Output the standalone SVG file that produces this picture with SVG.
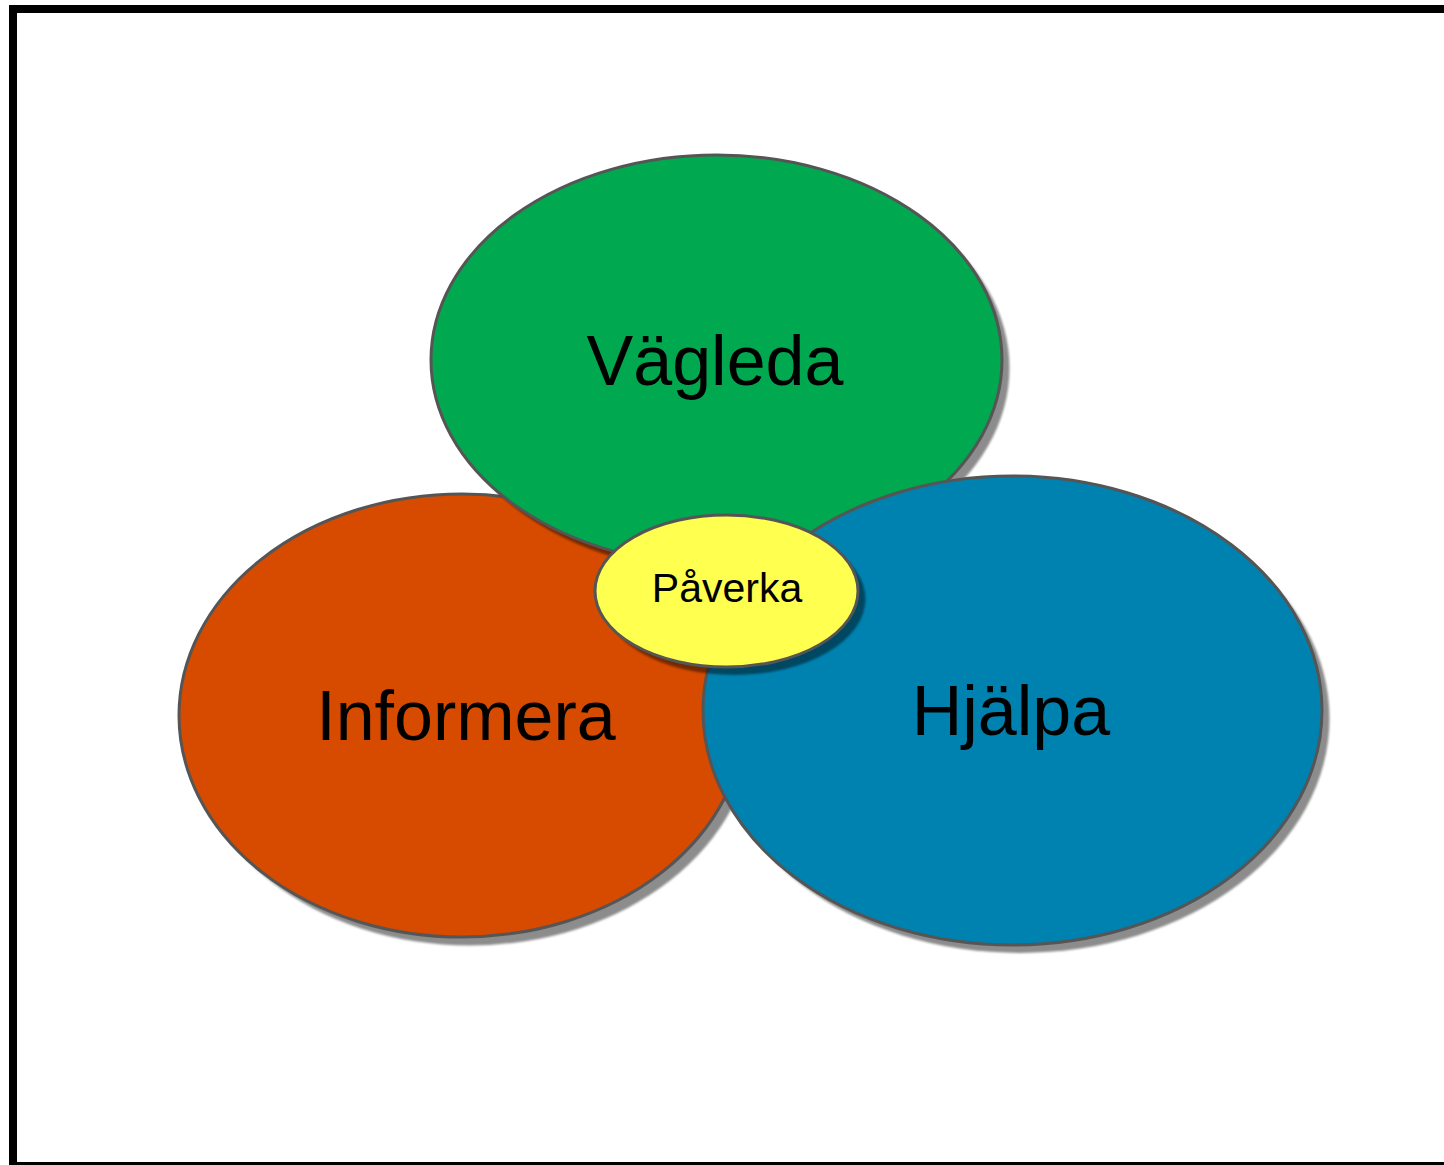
<svg xmlns="http://www.w3.org/2000/svg" width="1444" height="1165" viewBox="0 0 1444 1165">
<defs>
<filter id="blur" x="-5%" y="-5%" width="110%" height="110%"><feGaussianBlur stdDeviation="1.2"/></filter>
</defs>
<style>
.shadow{fill:#000;fill-opacity:0.45;filter:url(#blur)}
.node{stroke:#555;stroke-width:3}
.big{font-family:"Liberation Sans",Arial,sans-serif;font-size:70px;fill:#000;text-anchor:middle}
.small{font-family:"Liberation Sans",Arial,sans-serif;font-size:41px;fill:#000;text-anchor:middle}
</style>
<rect x="0" y="0" width="1444" height="1165" fill="#fff"/>
<rect x="13" y="9" width="1460" height="1157" fill="none" stroke="#000" stroke-width="8"/>
<g id="informera">
<ellipse class="shadow" cx="470" cy="724" rx="283" ry="221.5"/>
<ellipse class="node" cx="462" cy="715.5" rx="283" ry="221.5" fill="#D64B00"/>
<text class="big" x="466" y="740">Informera</text>
</g>
<g id="vagleda">
<ellipse class="shadow" cx="724" cy="368" rx="285.5" ry="205"/>
<ellipse class="node" cx="716.5" cy="360" rx="285.5" ry="205" fill="#00A94F"/>
<text class="big" x="715" y="385">Vägleda</text>
</g>
<g id="hjalpa">
<ellipse class="shadow" cx="1020" cy="718.5" rx="309.5" ry="234.5"/>
<ellipse class="node" cx="1012.5" cy="710.5" rx="309.5" ry="234.5" fill="#0082B1"/>
<text class="big" x="1011" y="735">Hjälpa</text>
</g>
<g id="paverka">
<ellipse class="shadow" cx="734" cy="599" rx="131.5" ry="76"/>
<ellipse class="node" cx="726.5" cy="591" rx="131.5" ry="76" fill="#FFFF4F"/>
<text class="small" x="727" y="602">Påverka</text>
</g>
<g id="connectors"/>
</svg>
